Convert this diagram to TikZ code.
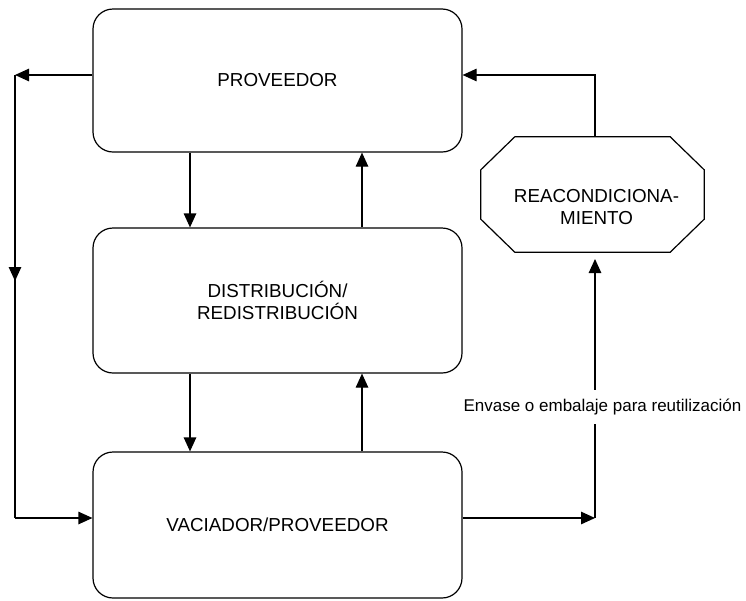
\documentclass[tikz,border=0pt]{standalone}
\usepackage{fontspec}
\setmainfont{Liberation Sans}
\usetikzlibrary{arrows.meta}
\begin{document}
\begin{tikzpicture}[x=1pt,y=-1pt,
  box/.style={draw, line width=1.2pt, rounded corners=20pt, minimum width=369pt,
    inner sep=0pt, font=\fontsize{18.8}{22}\selectfont, align=center},
  plain/.style={inner sep=0pt, font=\fontsize{18.8}{22}\selectfont, align=center},
  conn/.style={line width=1.2pt},
  arr/.style={conn, -{Triangle[length=14pt,width=12.5pt]}},
]
\useasboundingbox (0,0) rectangle (746,600);

\node[box, minimum height=143pt] (prov) at (277.5,80.5) {PROVEEDOR};
\node[box, minimum height=145pt] (dist) at (277.5,300.5) {DISTRIBUCIÓN/\\REDISTRIBUCIÓN};
\node[box, minimum height=146pt] (vac) at (277.5,525) {VACIADOR/PROVEEDOR};

% octagon
\node[minimum width=223pt, minimum height=115pt, inner sep=0pt] (rea) at (592.5,194.5) {};
\draw[conn] ([xshift=34pt]rea.north west) -- ([xshift=-34pt]rea.north east)
  -- ([yshift=-33pt]rea.north east) -- ([yshift=33pt]rea.south east)
  -- ([xshift=-34pt]rea.south east) -- ([xshift=34pt]rea.south west)
  -- ([yshift=33pt]rea.south west) -- ([yshift=-33pt]rea.north west) -- cycle;
\node[plain] (reatxt) at (596.5,207.5) {REACONDICIONA-\\MIENTO};

% left loop
\coordinate (L1) at (15,75);
\coordinate (L2) at (15,518);
\coordinate (Lm) at (15,281);
\draw[arr] (prov.west |- L1) -- (L1);
\draw[conn] (L1) -- (L2);
\draw[arr] (L1) -- (Lm);
\draw[arr] (L2) -- (vac.west |- L2);

% vertical arrows between boxes
\coordinate (XA) at (190,0);
\coordinate (XB) at (362,0);
\draw[arr] (prov.south -| XA) -- (dist.north -| XA);
\draw[arr] (dist.north -| XB) -- (prov.south -| XB);
\draw[arr] (dist.south -| XA) -- (vac.north -| XA);
\draw[arr] (vac.north -| XB) -- (dist.south -| XB);

% right loop
\coordinate (R1) at (595,518);
\coordinate (R2) at (595,259);
\coordinate (T1) at (595,75);
\draw[arr] (vac.east |- R1) -- (R1);
\draw[arr] (R1) -- (R2);
\draw[arr] (rea.north -| T1) -- (T1) -- (prov.east |- T1);

\node[fill=white, inner xsep=1pt, inner ysep=9pt, font=\fontsize{17}{20}\selectfont] (lbl) at (602.5,407) {Envase o embalaje para reutilización};
\end{tikzpicture}
\end{document}
